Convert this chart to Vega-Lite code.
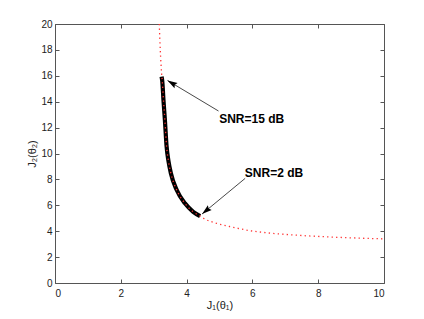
{
  "$schema": "https://vega.github.io/schema/vega-lite/v6.json",
  "width": 329,
  "height": 259,
  "autosize": {"type": "none"},
  "padding": {"left": 55, "top": 24, "right": 40, "bottom": 36},
  "background": "white",
  "config": {
    "view": {"stroke": null},
    "font": "Liberation Sans",
    "axis": {
      "grid": false,
      "domainColor": "#555555",
      "domainWidth": 1,
      "tickColor": "#555555",
      "tickSize": -4,
      "labelFont": "Liberation Sans",
      "labelFontSize": 10,
      "labelColor": "#222222",
      "titleFont": "Liberation Sans",
      "titleFontSize": 11,
      "titleFontWeight": "normal",
      "titleColor": "#222222"
    }
  },
  "datasets": {
    "curve": [
      {"x": 3.17, "y": 20},
      {"x": 3.2, "y": 18},
      {"x": 3.24, "y": 16.2},
      {"x": 3.26, "y": 15.6},
      {"x": 3.3, "y": 14},
      {"x": 3.34, "y": 12.6},
      {"x": 3.39, "y": 10.6},
      {"x": 3.45, "y": 9.4},
      {"x": 3.52, "y": 8.5},
      {"x": 3.7, "y": 7.18},
      {"x": 3.95, "y": 6.15},
      {"x": 4.2, "y": 5.5},
      {"x": 4.41, "y": 5.17},
      {"x": 4.51, "y": 5.0},
      {"x": 4.91, "y": 4.61},
      {"x": 5.42, "y": 4.3},
      {"x": 5.93, "y": 4.04},
      {"x": 6.43, "y": 3.88},
      {"x": 7.3, "y": 3.7},
      {"x": 8.56, "y": 3.53},
      {"x": 9.3, "y": 3.46},
      {"x": 10, "y": 3.41}
    ],
    "snr": [
      {"x": 3.24, "y": 15.93},
      {"x": 3.26, "y": 15.6},
      {"x": 3.3, "y": 14},
      {"x": 3.34, "y": 12.6},
      {"x": 3.39, "y": 10.6},
      {"x": 3.45, "y": 9.4},
      {"x": 3.52, "y": 8.5},
      {"x": 3.7, "y": 7.18},
      {"x": 3.95, "y": 6.15},
      {"x": 4.2, "y": 5.5},
      {"x": 4.41, "y": 5.17}
    ],
    "notes": [
      {"label": "SNR=15 dB", "x": 4.99, "y": 12.63},
      {"label": "SNR=2 dB", "x": 5.77, "y": 8.53}
    ],
    "arrows": [
      {"id": "a15", "x": 4.97, "y": 13.28, "x2": 3.42, "y2": 15.64},
      {"id": "a2", "x": 5.78, "y": 8.08, "x2": 4.47, "y2": 5.33}
    ]
  },
  "layer": [
    {
      "data": {"name": "snr"},
      "mark": {"type": "line", "color": "black", "strokeWidth": 4.2, "interpolate": "monotone", "strokeCap": "butt"},
      "encoding": {
        "x": {"field": "x", "type": "quantitative", "scale": {"domain": [0, 10], "nice": false},
              "axis": {"orient": "top", "labels": false, "title": null, "values": [0, 2, 4, 6, 8, 10]}},
        "y": {"field": "y", "type": "quantitative", "scale": {"domain": [0, 20], "nice": false},
              "axis": {"orient": "right", "labels": false, "title": null, "values": [0, 2, 4, 6, 8, 10, 12, 14, 16, 18, 20]}}
      }
    },
    {
      "data": {"name": "curve"},
      "mark": {"type": "line", "color": "#ff3333", "strokeWidth": 1.3, "strokeDash": [1.3, 3.2], "interpolate": "monotone"},
      "encoding": {
        "x": {"field": "x", "type": "quantitative",
              "axis": {"orient": "bottom", "title": "J₁(θ₁)", "values": [0, 2, 4, 6, 8, 10], "labelPadding": 9, "titlePadding": 1}},
        "y": {"field": "y", "type": "quantitative",
              "axis": {"orient": "left", "title": "J₂(θ₂)", "values": [0, 2, 4, 6, 8, 10, 12, 14, 16, 18, 20], "labelPadding": 7, "titlePadding": 3}}
      }
    },
    {
      "data": {"name": "arrows"},
      "mark": {"type": "rule", "color": "#333333", "strokeWidth": 0.9},
      "encoding": {
        "x": {"field": "x", "type": "quantitative", "axis": null},
        "y": {"field": "y", "type": "quantitative", "axis": null},
        "x2": {"field": "x2"},
        "y2": {"field": "y2"}
      }
    },
    {
      "data": {"name": "arrows"},
      "transform": [{"filter": "datum.id === 'a15'"}],
      "mark": {"type": "point", "shape": "M0,0L-0.6,2L0,1.7L0.6,2Z", "size": 100, "filled": true, "color": "black", "opacity": 1, "angle": 301},
      "encoding": {
        "x": {"field": "x2", "type": "quantitative", "axis": null},
        "y": {"field": "y2", "type": "quantitative", "axis": null}
      }
    },
    {
      "data": {"name": "arrows"},
      "transform": [{"filter": "datum.id === 'a2'"}],
      "mark": {"type": "point", "shape": "M0,0L-0.6,2L0,1.7L0.6,2Z", "size": 100, "filled": true, "color": "black", "opacity": 1, "angle": 230.5},
      "encoding": {
        "x": {"field": "x2", "type": "quantitative", "axis": null},
        "y": {"field": "y2", "type": "quantitative", "axis": null}
      }
    },
    {
      "data": {"name": "notes"},
      "mark": {"type": "text", "align": "left", "baseline": "middle", "fontSize": 12, "fontWeight": "bold", "color": "black", "font": "Liberation Sans"},
      "encoding": {
        "x": {"field": "x", "type": "quantitative", "axis": null},
        "y": {"field": "y", "type": "quantitative", "axis": null},
        "text": {"field": "label"}
      }
    }
  ],
  "resolve": {"axis": {"x": "independent", "y": "independent"}}
}
